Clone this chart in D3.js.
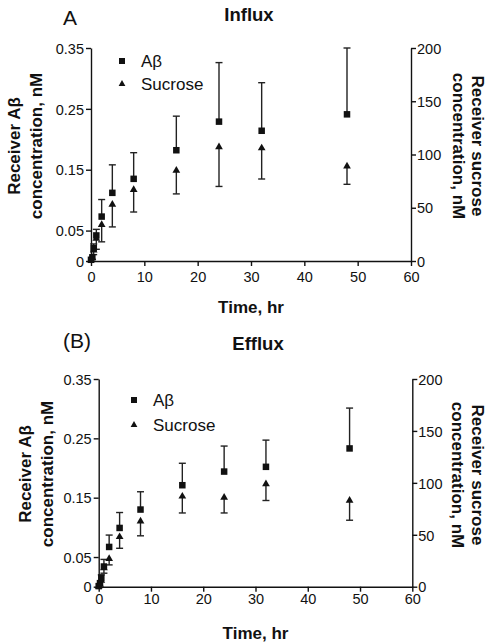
<!DOCTYPE html>
<html><head><meta charset="utf-8">
<script src="https://cdn.jsdelivr.net/npm/d3@7/dist/d3.min.js"></script>
<style>
body{margin:0;background:#fff;}
svg{display:block;font-family:"Liberation Sans",Arial,Helvetica,sans-serif;}
</style></head>
<body><svg id="c" width="493" height="644"></svg>
<script>
// ---- data ----
const times = [0, 0.25, 0.5, 1, 2, 4, 8, 16, 24, 32, 48];
const xTicks = [0, 10, 20, 30, 40, 50, 60];
const leftTicks = [0, 0.05, 0.15, 0.25, 0.35];
const rightTicks = [0, 50, 100, 150, 200];
const panelLetters = ["A", "(B)"];
const panelTitles = ["Influx", "Efflux"];
const seriesNames = ["A\u03b2", "Sucrose"];

// Panel A (influx)
const abInflux     = [0.002, 0.006, 0.021, 0.042, 0.073, 0.112, 0.135, 0.182, 0.229, 0.214, 0.241];
const abInfluxErr  = [0.002, 0.004, 0.007, 0.010, 0.028, 0.046, 0.043, 0.056, 0.097, 0.079, 0.109];
const sucInflux    = [1, 3, 10, 21, 34, 53, 67, 85, 107, 106, 89];
const sucInfluxErr = [1, 2, 4, 10, 16, 21, 21, 22, 37, 29, 17];

// Panel B (efflux)
const abEfflux     = [0.001, 0.006, 0.015, 0.034, 0.067, 0.099, 0.130, 0.171, 0.194, 0.202, 0.233];
const abEffluxErr  = [0.001, 0.003, 0.005, 0.012, 0.020, 0.026, 0.030, 0.037, 0.043, 0.045, 0.068];
const sucEfflux    = [0.5, 2, 6, 18, 27, 48, 63, 87, 86, 99, 83];
const sucEffluxErr = [0.5, 1, 2, 5, 6, 11, 14, 16, 15, 16, 19];

// ---- layout ----
const panels = [
  {ab: abInflux, abErr: abInfluxErr, suc: sucInflux, sucErr: sucInfluxErr,
   x0: 91, x1: 411, yTop: 48, yBot: 261, xTickBase: 282,
   letter: {x: 63, y: 25}, title: {x: 249, y: 21}, xlab: 313,
   left: {b1: 20, b2: 42, cy: 146}, right: {b1: 472, b2: 453, cy: 146},
   legend: {x: 122, y1: 61, y2: 84, tx: 141}},
  {ab: abEfflux, abErr: abEffluxErr, suc: sucEfflux, sucErr: sucEffluxErr,
   x0: 98.7, x1: 412.3, yTop: 379, yBot: 586.7, xTickBase: 604,
   letter: {x: 63, y: 348}, title: {x: 258, y: 350}, xlab: 639,
   left: {b1: 31, b2: 53, cy: 474}, right: {b1: 472, b2: 452, cy: 475},
   legend: {x: 134, y1: 400, y2: 425, tx: 153}}
];

const svg = d3.select("#c");
const ink = "#111";
const fmtL = d => d === 0 ? "0" : d3.format(".2f")(d);

panels.forEach((p, i) => {
  const g = svg.append("g");
  const x = d3.scaleLinear().domain([0, 60]).range([p.x0, p.x1]);
  const yL = d3.scaleLinear().domain([0, 0.35]).range([p.yBot, p.yTop]);
  const yR = d3.scaleLinear().domain([0, 200]).range([p.yBot, p.yTop]);

  // axes
  const ax = g.append("g").attr("transform", `translate(0,${p.yBot})`)
    .call(d3.axisBottom(x).tickValues(xTicks).tickFormat(d3.format("d")).tickSize(5).tickSizeOuter(0).tickPadding(4));
  const al = g.append("g").attr("transform", `translate(${p.x0},0)`)
    .call(d3.axisLeft(yL).tickValues(leftTicks).tickFormat(fmtL).tickSize(5).tickSizeOuter(0).tickPadding(2));
  const ar = g.append("g").attr("transform", `translate(${p.x1},0)`)
    .call(d3.axisRight(yR).tickValues(rightTicks).tickFormat(d3.format("d")).tickSize(5).tickSizeOuter(0).tickPadding(1));
  [ax, al, ar].forEach(a => {
    a.selectAll("path,line").attr("stroke", ink).attr("stroke-width", 1.4);
    a.selectAll("text").attr("font-size", 14.5).attr("fill", ink).attr("font-family", "Liberation Sans, Arial, sans-serif");
  });
  ax.selectAll("text").attr("dy", null).attr("y", p.xTickBase - p.yBot);
  al.selectAll("text").attr("dy", "0.36em");
  ar.selectAll("text").attr("dy", "0.36em");

  // error bars
  const cap = 3.5;
  const eb = g.append("g").attr("stroke", "#222").attr("stroke-width", 1.4).attr("fill", "none");
  times.forEach((t, k) => {
    const cx = x(t);
    if (p.abErr[k] > 0.004) {
      const yv = yL(p.ab[k]), ye = yL(p.ab[k] + p.abErr[k]);
      eb.append("line").attr("x1", cx).attr("x2", cx).attr("y1", yv).attr("y2", ye);
      eb.append("line").attr("x1", cx - cap).attr("x2", cx + cap).attr("y1", ye).attr("y2", ye);
    }
    if (p.sucErr[k] > 2) {
      const yv = yR(p.suc[k]), ye = yR(p.suc[k] - p.sucErr[k]);
      eb.append("line").attr("x1", cx).attr("x2", cx).attr("y1", yv).attr("y2", ye);
      eb.append("line").attr("x1", cx - cap).attr("x2", cx + cap).attr("y1", ye).attr("y2", ye);
    }
  });

  // markers
  const sq = 6.5;
  g.append("g").selectAll("rect").data(times).join("rect")
    .attr("x", (t) => x(t) - sq / 2)
    .attr("y", (t, k) => yL(p.ab[k]) - sq / 2)
    .attr("width", sq).attr("height", sq).attr("fill", ink);
  const tri = d3.symbol().type(d3.symbolTriangle).size(26);
  g.append("g").selectAll("path").data(times).join("path")
    .attr("d", tri)
    .attr("transform", (t, k) => `translate(${x(t)},${yR(p.suc[k])})`)
    .attr("fill", ink);

  // legend
  g.append("rect").attr("x", p.legend.x - 3).attr("y", p.legend.y1 - 3).attr("width", 6).attr("height", 6).attr("fill", ink);
  g.append("path").attr("d", d3.symbol().type(d3.symbolTriangle).size(20)())
    .attr("transform", `translate(${p.legend.x},${p.legend.y2})`).attr("fill", ink);
  g.append("text").attr("x", p.legend.tx).attr("y", p.legend.y1 + 6).attr("font-size", 17).attr("fill", ink).text(seriesNames[0]);
  g.append("text").attr("x", p.legend.tx).attr("y", p.legend.y2 + 6).attr("font-size", 17).attr("fill", ink).text(seriesNames[1]);

  // titles
  g.append("text").attr("x", p.letter.x).attr("y", p.letter.y).attr("font-size", 21).attr("fill", ink).text(panelLetters[i]);
  g.append("text").attr("x", p.title.x).attr("y", p.title.y).attr("text-anchor", "middle")
    .attr("font-size", 18.5).attr("font-weight", "bold").attr("fill", ink).text(panelTitles[i]);

  // x label
  g.append("text").attr("x", (p.x0 + p.x1) / 2).attr("y", p.xlab).attr("text-anchor", "middle")
    .attr("font-size", 17).attr("font-weight", "bold").attr("fill", ink).text("Time, hr");

  // left y label
  [["Receiver A\u03b2", p.left.b1], ["concentration, nM", p.left.b2]].forEach(([s, b]) => {
    g.append("text").attr("transform", `translate(${b},${p.left.cy}) rotate(-90)`)
      .attr("text-anchor", "middle").attr("font-size", 17).attr("font-weight", "bold").attr("fill", ink).text(s);
  });
  // right y label
  [["Receiver sucrose", p.right.b1], ["concentration, nM", p.right.b2]].forEach(([s, b]) => {
    g.append("text").attr("transform", `translate(${b},${p.right.cy}) rotate(90)`)
      .attr("text-anchor", "middle").attr("font-size", 17).attr("font-weight", "bold").attr("fill", ink).text(s);
  });
});
</script></body></html>
